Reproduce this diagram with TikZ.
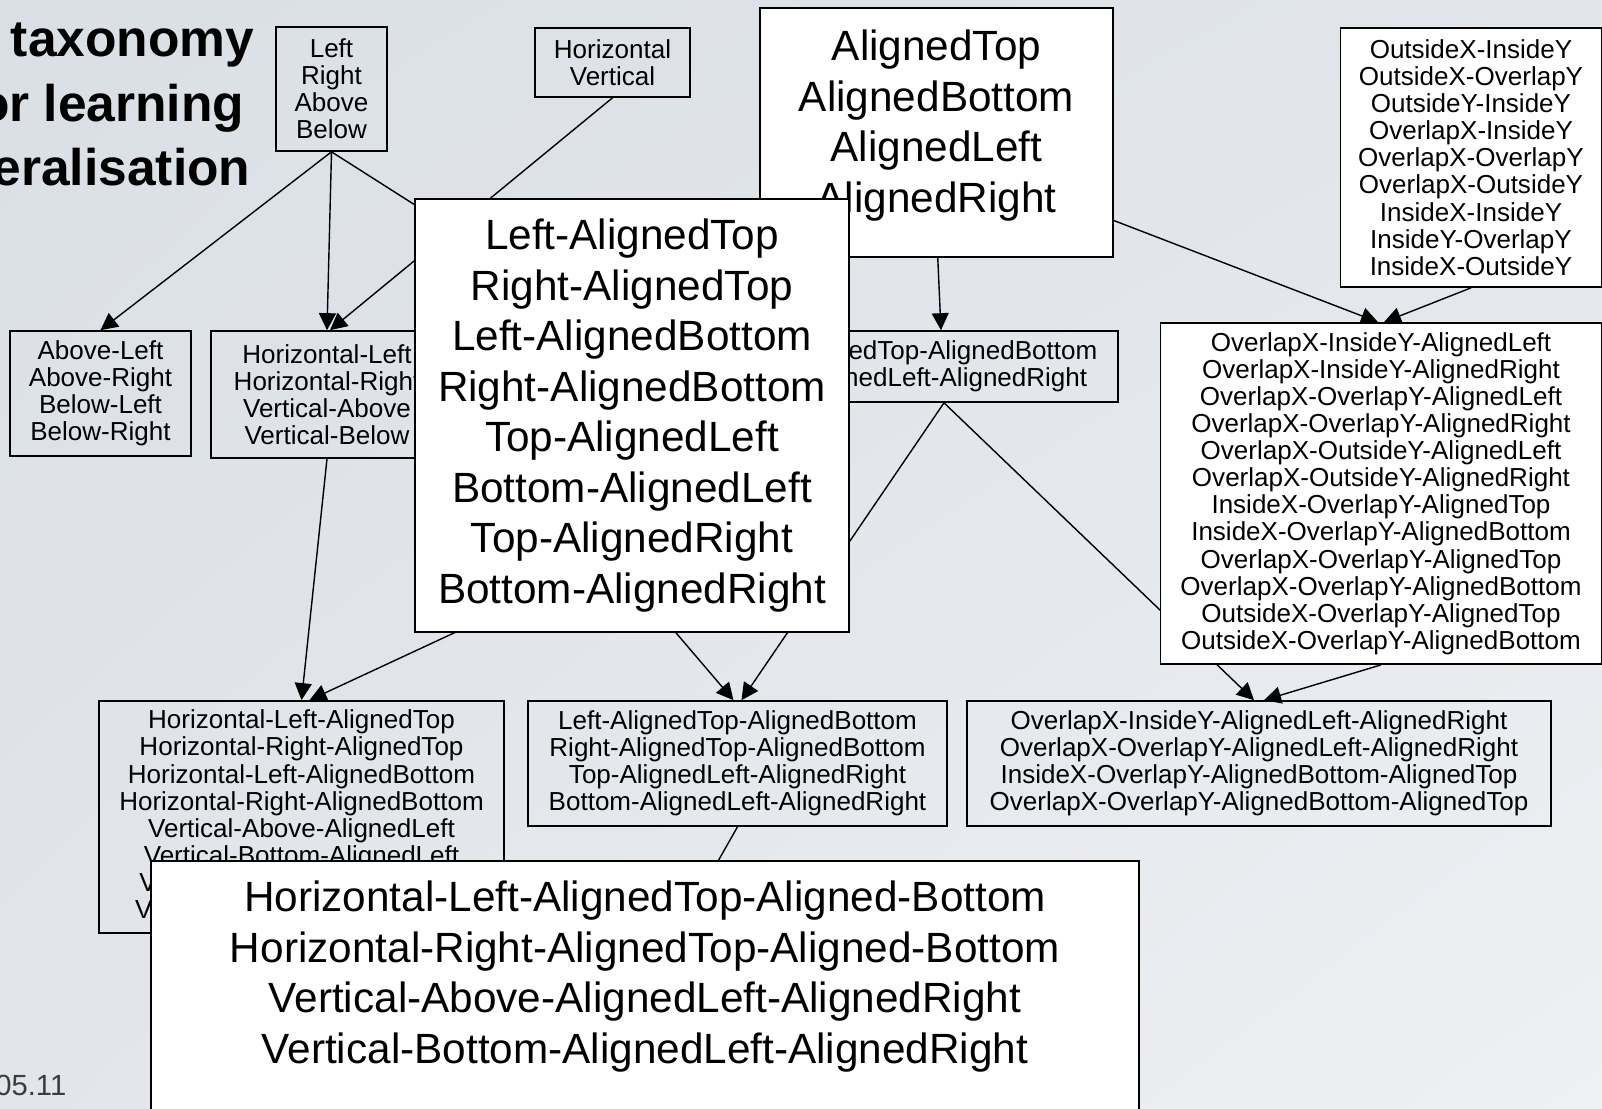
\documentclass[tikz,border=0pt]{standalone}
\usepackage{fontspec}
\setmainfont{Liberation Sans}
\usetikzlibrary{arrows.meta, shadings}
\pgfdeclarelayer{back}
\pgfdeclarelayer{links}
\pgfsetlayers{back,links,main}
\definecolor{slideul}{RGB}{218,223,230}
\definecolor{slideur}{RGB}{226,230,235}
\definecolor{slidell}{RGB}{226,229,234}
\definecolor{slidelr}{RGB}{238,240,243}
\definecolor{footgray}{RGB}{60,60,60}

\begin{document}
\begin{tikzpicture}[x=0.01cm, y=0.01cm]
\tikzstyle{every node}+=[inner sep=0pt]
\tikzstyle{smallbox}=[draw=black, line width=0.45pt, align=center, font=\fontsize{7.4pt}{7.71pt}\selectfont]
\tikzstyle{whitebox}=[smallbox, fill=white]
\tikzstyle{zoomtext}=[align=center, font=\fontsize{12.03pt}{14.37pt}\selectfont]
\tikzstyle{zoombox}=[zoomtext, draw=black, line width=0.55pt, fill=white]
\tikzstyle{slidetitle}=[anchor=base east, font=\fontsize{14.65pt}{18.5pt}\selectfont\bfseries]
\tikzstyle{link}=[black, line width=0.4pt, -{Triangle[length=0.17cm,width=0.17cm]}]
\useasboundingbox (0,0) rectangle (1602,-1109);
\begin{pgfonlayer}{back}
\shade[upper left=slideul, upper right=slideur, lower left=slidell, lower right=slidelr] (0,0) rectangle (1602,-1109);
\end{pgfonlayer}
\node[slidetitle] (line1) at (255,-57) {taxonomy};
\node[slidetitle] (line2) at (245,-121) {or learning};
\node[slidetitle] (line3) at (251,-185) {eralisation};
\node[anchor=base east, font=\fontsize{8.3pt}{10pt}\selectfont, text=footgray] (date) at (67,-1095) {05.11};
\node[smallbox, minimum width=1.11cm, minimum height=1.24cm] (lrab) at (331.5,-89) {Left\\Right\\Above\\Below};
\node[smallbox, minimum width=1.55cm, minimum height=0.69cm] (hv) at (612.5,-62.5) {Horizontal\\Vertical};
\node[smallbox, minimum width=1.81cm, minimum height=1.25cm] (ablr) at (100.5,-393.5) {Above-Left\\Above-Right\\Below-Left\\Below-Right};
\node[smallbox, minimum width=2.32cm, minimum height=1.27cm] (hvlr) at (327,-394.5) {Horizontal-Left\\Horizontal-Right\\Vertical-Above\\Vertical-Below};
\node[smallbox, minimum width=3.48cm, minimum height=0.71cm] (tblr) at (944,-366.5) {AlignedTop-AlignedBottom\\AlignedLeft-AlignedRight};
\node[smallbox, minimum width=4.05cm, minimum height=2.32cm] (hvlat) at (301.5,-817) {Horizontal-Left-AlignedTop\\Horizontal-Right-AlignedTop\\Horizontal-Left-AlignedBottom\\Horizontal-Right-AlignedBottom\\Vertical-Above-AlignedLeft\\Vertical-Bottom-AlignedLeft\\Vertical-Above-AlignedRight\\Vertical-Bottom-AlignedRight};
\node[smallbox, minimum width=4.19cm, minimum height=1.25cm] (lattb) at (737.5,-763.5) {Left-AlignedTop-AlignedBottom\\Right-AlignedTop-AlignedBottom\\Top-AlignedLeft-AlignedRight\\Bottom-AlignedLeft-AlignedRight};
\node[smallbox, minimum width=5.84cm, minimum height=1.25cm] (oxalr) at (1259,-763.5) {OverlapX-InsideY-AlignedLeft-AlignedRight\\OverlapX-OverlapY-AlignedLeft-AlignedRight\\InsideX-OverlapY-AlignedBottom-AlignedTop\\OverlapX-OverlapY-AlignedBottom-AlignedTop};
\coordinate (latn) at (613,-331);
\coordinate (lats) at (613,-559);
\coordinate (algn) at (933,-151);
\coordinate (combo) at (696,-900);
\node[whitebox, minimum width=2.61cm, minimum height=2.59cm] (oxiy) at (1471,-157.5) {OutsideX-InsideY\\OutsideX-OverlapY\\OutsideY-InsideY\\OverlapX-InsideY\\OverlapX-OverlapY\\OverlapX-OutsideY\\InsideX-InsideY\\InsideY-OverlapY\\InsideX-OutsideY};
\node[whitebox, minimum width=4.41cm, minimum height=3.41cm] (oxal) at (1381,-493.5) {OverlapX-InsideY-AlignedLeft\\OverlapX-InsideY-AlignedRight\\OverlapX-OverlapY-AlignedLeft\\OverlapX-OverlapY-AlignedRight\\OverlapX-OutsideY-AlignedLeft\\OverlapX-OutsideY-AlignedRight\\InsideX-OverlapY-AlignedTop\\InsideX-OverlapY-AlignedBottom\\OverlapX-OverlapY-AlignedTop\\OverlapX-OverlapY-AlignedBottom\\OutsideX-OverlapY-AlignedTop\\OutsideX-OverlapY-AlignedBottom};
\node[zoombox, minimum width=3.53cm, minimum height=2.49cm] (alzoom) at (936.5,-132.5) {};
\node[zoomtext] (altext) at (936.5,-125.5) {AlignedTop\\AlignedBottom\\AlignedLeft\\AlignedRight};
\node[zoombox, minimum width=4.34cm, minimum height=4.33cm] (latzoom) at (632,-415.5) {Left-AlignedTop\\Right-AlignedTop\\Left-AlignedBottom\\Right-AlignedBottom\\Top-AlignedLeft\\Bottom-AlignedLeft\\Top-AlignedRight\\Bottom-AlignedRight};
\node[zoombox, anchor=north, minimum width=9.88cm, minimum height=2.9cm] (combozoom) at (645,-860) {};
\node[zoomtext] (combotext) at (645,-976.5) {Horizontal-Left-AlignedTop-Aligned-Bottom\\Horizontal-Right-AlignedTop-Aligned-Bottom\\Vertical-Above-AlignedLeft-AlignedRight\\Vertical-Bottom-AlignedLeft-AlignedRight};
\begin{pgfonlayer}{links}
\draw[link] (lrab.south) -- (ablr.north);
\draw[link] (lrab.south) -- (hvlr.north);
\draw[link] (lrab.south) -- (latn);
\draw[link] (hv.south) -- ([xshift=0.03cm]hvlr.north);
\draw[link] (algn) -- ([xshift=-0.03cm]tblr.north);
\draw[link] (algn) -- ([xshift=-0.03cm]oxal.north);
\draw[link] (oxiy.south) -- ([xshift=0.03cm]oxal.north);
\draw[link] (tblr.south) -- ([xshift=0.04cm]lattb.north);
\draw[link] (tblr.south) -- ([xshift=-0.05cm]oxalr.north);
\draw[link] (lats) -- ([xshift=-0.04cm]lattb.north);
\draw[link] (lats) -- ([xshift=0.08cm]hvlat.north);
\draw[link] (hvlr.south) -- (hvlat.north);
\draw[link] (oxal.south) -- ([xshift=0.05cm]oxalr.north);
\draw[link] (lattb.south) -- (combo);
\end{pgfonlayer}
\end{tikzpicture}
\end{document}
